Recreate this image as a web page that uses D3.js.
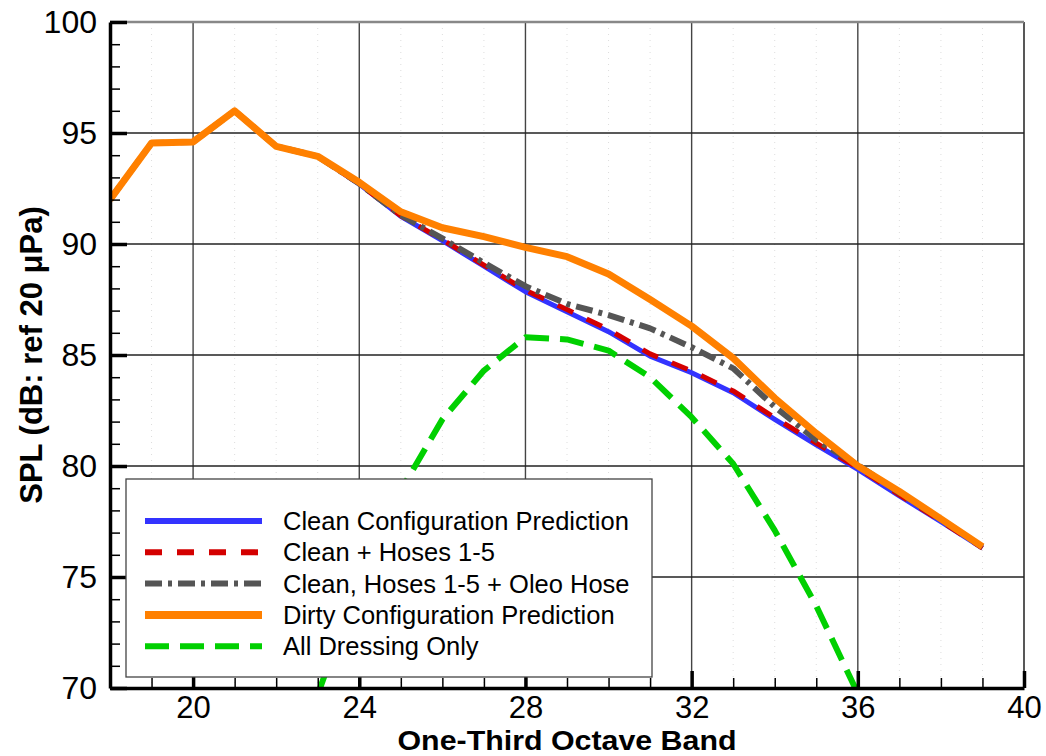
<html>
<script src="https://d3js.org/d3.v7.min.js"></script>
<style>
  body { margin: 0; background: #fff; }
  text { font-family: "Liberation Sans", Arial, sans-serif; }
</style>
<body>
<svg width=1046 height=756></svg>
<script>
var bands = [18,19,20,21,22,23,24,25,26,27,28,29,30,31,32,33,34,35,36,37,38,39];
var clean = [92.0,94.55,94.6,96.0,94.4,93.95,92.7,91.25,90.15,89.0,87.85,86.95,86.05,84.95,84.2,83.3,82.1,80.95,79.85,78.65,77.5,76.3];
var hoses = [92.0,94.55,94.6,96.0,94.4,93.95,92.7,91.27,90.2,89.05,87.92,87.05,86.15,85.05,84.28,83.38,82.18,81.03,79.92,78.7,77.52,76.3];
var oleo  = [92.0,94.55,94.6,96.0,94.4,93.95,92.72,91.3,90.25,89.15,88.1,87.3,86.8,86.2,85.35,84.4,82.67,81.17,80.05,78.8,77.6,76.35];
var dirty = [92.0,94.55,94.6,96.0,94.4,93.95,92.78,91.45,90.73,90.33,89.85,89.43,88.65,87.5,86.3,84.86,83.06,81.47,80.0,78.85,77.62,76.37];
var dressBands = [23,24,25,26,27,28,29,30,31,32,33,34,35,36];
var dress = [69.7,74.9,78.9,82.1,84.3,85.8,85.7,85.2,84.0,82.2,80.1,77.1,73.7,69.75];

var xMajor = [20,24,28,32,36,40];
var yMajor = [70,75,80,85,90,95,100];
var legendLabels = ["Clean Configuration Prediction","Clean + Hoses 1-5","Clean, Hoses 1-5 + Oleo Hose","Dirty Configuration Prediction","All Dressing Only"];

var x = d3.scaleLinear().domain([18,40]).range([110,1024]);
var y = d3.scaleLinear().domain([70,100]).range([688,22]);
var svg = d3.select("svg");

svg.append("clipPath").attr("id","plot").append("rect")
  .attr("x",110).attr("y",22).attr("width",914).attr("height",666)
  .style("fill","none").style("stroke","none");

// faint minor grid
svg.append("g").selectAll("line").data(d3.range(19,40).filter(function(d){return d%4!=0;})).enter().append("line")
  .attr("x1",function(d){return x(d);}).attr("x2",function(d){return x(d);})
  .attr("y1",y(100)).attr("y2",y(70))
  .style("stroke","#ddd").style("stroke-width",1).style("stroke-dasharray","1,5");

// major grid
svg.append("g").selectAll("line").data(xMajor).enter().append("line")
  .attr("x1",function(d){return x(d);}).attr("x2",function(d){return x(d);})
  .attr("y1",y(100)).attr("y2",y(70))
  .style("stroke",function(d){return d==40?"#111":"#444";}).style("stroke-width",1.4);
svg.append("g").selectAll("line").data(yMajor.slice(1)).enter().append("line")
  .attr("x1",x(18)).attr("x2",x(40))
  .attr("y1",function(d){return y(d);}).attr("y2",function(d){return y(d);})
  .style("stroke",function(d){return d==100?"#888":"#222";})
  .style("stroke-width",function(d){return d==100?2.5:1.4;});

var line = function(xs){
  return d3.line().x(function(d,i){return x(xs[i]);}).y(function(d){return y(d);});
};
var plot = svg.append("g").attr("clip-path","url(#plot)");
var series = [
  {v:dress, b:dressBands, c:"#00d000", w:6, dash:"24,11"},
  {v:clean, b:bands, c:"#3333ff", w:5, dash:null},
  {v:hoses, b:bands, c:"#d40000", w:5, dash:"17,15"},
  {v:oleo,  b:bands, c:"#555555", w:6, dash:"17,6,4,6"},
  {v:dirty, b:bands, c:"#ff8000", w:7, dash:null}
];
series.forEach(function(s){
  plot.append("path").datum(s.v).attr("d",line(s.b))
    .style("fill","none").style("stroke",s.c).style("stroke-width",s.w)
    .style("stroke-linejoin","round")
    .style("stroke-dasharray",s.dash);
});

// axes
svg.append("g").attr("transform","translate(110,0)")
  .call(d3.axisLeft(y).tickValues(d3.range(70,101)).tickSize(-10).tickFormat(""))
  .call(function(g){g.select(".domain").remove(); g.selectAll("line").style("stroke-width",1.5);});
svg.append("g").attr("transform","translate(0,688)")
  .call(d3.axisBottom(x).tickValues(d3.range(18,41)).tickSize(-10).tickFormat(""))
  .call(function(g){g.select(".domain").remove(); g.selectAll("line").style("stroke-width",1.5);});
svg.append("g").attr("transform","translate(110,0)")
  .call(d3.axisLeft(y).tickValues(yMajor).tickSize(-17).tickPadding(13).tickSizeOuter(0))
  .call(function(g){
    g.select(".domain").style("stroke-width",3.5);
    g.selectAll("line").style("stroke-width",3.5);
    g.selectAll("text").style("font-size","32px").style("fill","#000");
  });
svg.append("g").attr("transform","translate(0,688)")
  .call(d3.axisBottom(x).tickValues(xMajor).tickSize(-17).tickPadding(8).tickSizeOuter(0))
  .call(function(g){
    g.select(".domain").style("stroke-width",3.5);
    g.selectAll("line").style("stroke-width",3.5);
    g.selectAll("text").style("font-size","31px").style("fill","#000");
  });

svg.append("text").attr("x",567).attr("y",750).attr("text-anchor","middle")
  .style("font-size","27px").style("font-weight","bold")
  .attr("textLength",339).attr("lengthAdjust","spacingAndGlyphs").text("One-Third Octave Band");
svg.append("text").attr("transform","translate(42,355) rotate(-90)").attr("text-anchor","middle")
  .style("font-size","31px").style("font-weight","bold").text("SPL (dB: ref 20 \u03bcPa)");

// legend
var lg = svg.append("g");
lg.append("rect").attr("x",126).attr("y",479).attr("width",526).attr("height",198)
  .style("fill","#fff").style("stroke","#444").style("stroke-width",1.3);
var rows = lg.selectAll("g").data(series.slice(1).concat([series[0]])).enter().append("g")
  .attr("transform",function(d,i){return "translate(0,"+(521+i*31.3)+")";});
rows.append("line").attr("x1",145).attr("x2",262).attr("y1",0).attr("y2",0)
  .style("stroke",function(d){return d.c;})
  .style("stroke-width",function(d){return d.c=="#ff8000"?8:6;})
  .style("stroke-dasharray",function(d){return d.dash;});
rows.append("text").attr("x",283).attr("y",9).style("font-size","25.5px")
  .text(function(d,i){return legendLabels[i];});
</script>
</body>
</html>
